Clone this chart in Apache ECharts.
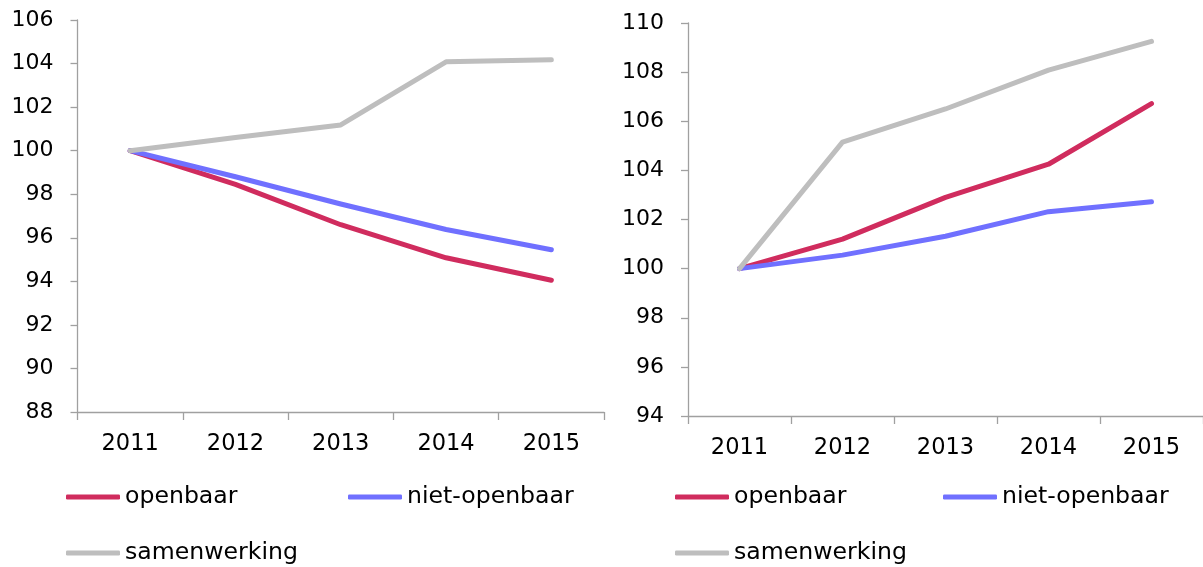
<!DOCTYPE html>
<html><head><meta charset="utf-8">
<script src="https://cdn.jsdelivr.net/npm/echarts@6/dist/echarts.min.js"></script>
<style>html,body{margin:0;padding:0;background:#fff}#c{width:1203px;height:567px}</style>
</head><body><div id="c"></div>
<script>
const years = ['2011','2012','2013','2014','2015'];
const names = ['openbaar','niet-openbaar','samenwerking'];
// left panel
const leftOpenbaar = [100, 98.45, 96.6, 95.08, 94.05];
const leftNietOpenbaar = [100, 98.8, 97.55, 96.38, 95.45];
const leftSamenwerking = [100, 100.6, 101.18, 104.08, 104.17];
// right panel
const rightOpenbaar = [100, 101.2, 102.9, 104.25, 106.72];
const rightNietOpenbaar = [100, 100.55, 101.32, 102.32, 102.72];
const rightSamenwerking = [100, 105.15, 106.5, 108.08, 109.25];

const colors = ['#d02c5e', '#7070ff', '#bebebe'];
const font = 'DejaVu Sans';
const axisCol = '#a0a0a0';

function xAx(gi){return {type:'category',gridIndex:gi,data:years,boundaryGap:true,
  axisLine:{lineStyle:{color:axisCol,width:1.3}},
  axisTick:{show:true,length:8,lineStyle:{color:axisCol,width:1.3},alignWithLabel:false},
  axisLabel:{color:'#000',fontFamily:font,fontSize:22.5,margin:21}};}
function yAx(gi,min,max){return {type:'value',gridIndex:gi,min:min,max:max,interval:2,
  axisLine:{show:true,lineStyle:{color:axisCol,width:1.3}},
  axisTick:{show:true,length:7,lineStyle:{color:axisCol,width:1.3}},
  splitLine:{show:false},
  axisLabel:{color:'#000',fontFamily:font,fontSize:22,margin:24}};}
function ser(name,data,idx){return {name:name,type:'line',xAxisIndex:idx,yAxisIndex:idx,data:data,
  symbol:'none',lineStyle:{width:5,color:colors[names.indexOf(name)],cap:'round',join:'round'},
  itemStyle:{color:colors[names.indexOf(name)]},animation:false};}
function leg(name,left,top){return {data:[name],left:left,top:top,icon:'roundRect',itemWidth:54,itemHeight:5,
  itemGap:0,selectedMode:false,padding:0,textStyle:{color:'#000',fontFamily:font,fontSize:23.6,padding:[0,0,0,0]}};}

const chart = echarts.init(document.getElementById('c'));
chart.setOption({
  animation:false,
  grid:[{left:77.5,top:20,width:526.5,height:392},{left:688,top:23,width:519,height:393}],
  xAxis:[xAx(0),xAx(1)],
  yAxis:[yAx(0,88,106),yAx(1,94,110)],
  legend:[leg('openbaar',66,485),leg('niet-openbaar',348,485),leg('samenwerking',66,541),
          leg('openbaar',675,485),leg('niet-openbaar',943,485),leg('samenwerking',675,541)],
  series:[ser('openbaar',leftOpenbaar,0),ser('niet-openbaar',leftNietOpenbaar,0),ser('samenwerking',leftSamenwerking,0),
          ser('openbaar',rightOpenbaar,1),ser('niet-openbaar',rightNietOpenbaar,1),ser('samenwerking',rightSamenwerking,1)]
});
</script></body></html>
